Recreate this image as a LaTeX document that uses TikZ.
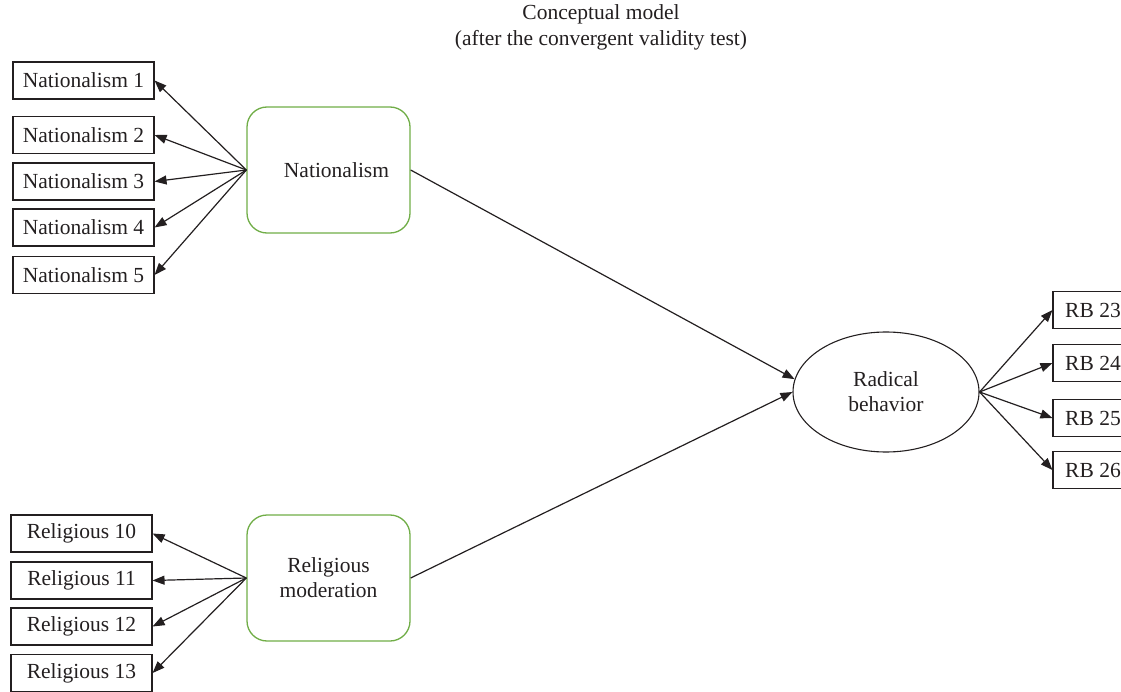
\documentclass[tikz,border=0pt]{standalone}
\usepackage{fontspec}
\setmainfont{Liberation Serif}
\usetikzlibrary{arrows.meta,shapes.geometric}
\definecolor{ink}{RGB}{35,31,32}
\definecolor{leaf}{RGB}{112,173,71}
\tikzset{
  indicator/.style={draw=ink, line width=1.1pt, rectangle, inner sep=0pt,
    minimum width=141pt, minimum height=37pt, text=ink},
  construct/.style={draw=leaf, line width=1.3pt, rectangle, rounded corners=20pt,
    inner sep=0pt, minimum width=163pt, minimum height=126pt, text=ink, align=center},
  outcome/.style={draw=ink, line width=1.1pt, ellipse, inner sep=0pt,
    minimum width=186pt, minimum height=120pt, text=ink, align=center},
  link/.style={draw=ink, line width=1.2pt, -{Triangle[length=12pt,width=9pt]}}
}
\begin{document}
\begin{tikzpicture}[x=1pt, y=-1pt, font=\fontsize{21.5}{25}\selectfont]
\useasboundingbox (0,0) rectangle (1121,692);
\clip (0,0) rectangle (1121,692);

% title
\node[text=ink, align=center, font=\fontsize{21.5}{26}\selectfont] (title) at (601,27)
  {Conceptual model\\(after the convergent validity test)};

% latent constructs
\node[construct] (nat) at (328.5,170) {\hspace*{16pt}Nationalism};
\node[construct] (rel) at (328.5,578) {Religious\\moderation};
\node[outcome] (rad) at (886,392) {Radical\\behavior};

% nationalism indicators
\node[indicator] (n1) at (83.5,80.5) {Nationalism 1};
\node[indicator] (n2) at (83.5,135) {Nationalism 2};
\node[indicator] (n3) at (83.5,181.5) {Nationalism 3};
\node[indicator] (n4) at (83.5,227.5) {Nationalism 4};
\node[indicator] (n5) at (83.5,275) {Nationalism 5};

% religious moderation indicators
\node[indicator] (r10) at (81.5,533.5) {Religious 10};
\node[indicator] (r11) at (81.5,580.5) {Religious 11};
\node[indicator] (r12) at (81.5,626.5) {Religious 12};
\node[indicator] (r13) at (81.5,673) {Religious 13};

% radical behaviour indicators
\node[indicator, minimum width=80pt] (b23) at (1093,310) {RB 23};
\node[indicator, minimum width=80pt] (b24) at (1093,363) {RB 24};
\node[indicator, minimum width=80pt] (b25) at (1093,418) {RB 25};
\node[indicator, minimum width=80pt] (b26) at (1093,470) {RB 26};

% loadings
\foreach \k in {n1,n2,n3,n4,n5}
  \draw[link] (nat.west) -- (\k.east);
\foreach \k in {r10,r11,r12,r13}
  \draw[link] (rel.west) -- (\k.east);
\foreach \k in {b23,b24,b25,b26}
  \draw[link] (rad.east) -- (\k.west);

% structural paths
\draw[link] (nat.east) -- (rad.172);
\draw[link] (rel.east) -- (rad.180);
\end{tikzpicture}
\end{document}
